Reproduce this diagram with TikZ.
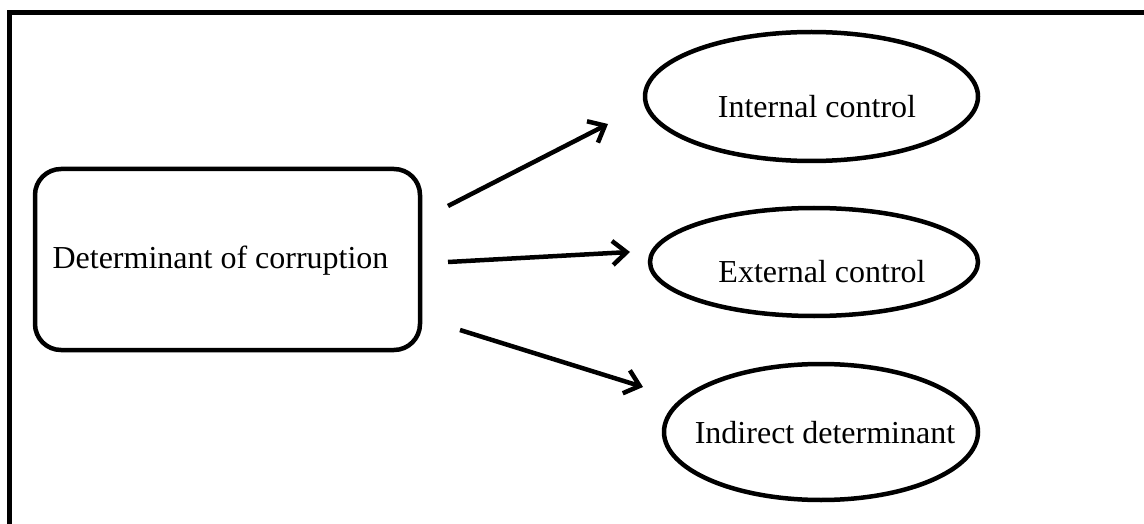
\documentclass[tikz,border=0pt]{standalone}
\usepackage{fontspec}
\setmainfont{Liberation Serif}
\usetikzlibrary{shapes.geometric,arrows.meta}
\tikzset{
  box/.style={draw, line width=4.5pt, rounded corners=26pt, inner sep=0pt},
  oval/.style={draw, ellipse, line width=4.5pt, inner sep=0pt},
  lbl/.style={anchor=base, inner sep=0pt, font=\fontsize{32}{38}\selectfont},
  arr/.style={line width=4.5pt, -{Straight Barb[length=14pt,width=24pt,line width=4.5pt]}},
}
\begin{document}
\begin{tikzpicture}[x=1pt,y=-1pt]
\useasboundingbox (0,0) rectangle (1144,524);
\begin{scope}
\clip (0,0) rectangle (1144,524);
\draw[line width=5pt] (9.5,13) rectangle (1160,540);
\end{scope}
% main box
\node[box, minimum width=385pt, minimum height=181pt] (det) at (227.5,259.5) {};
\node[lbl] (dett) at (220.5,268) {Determinant of corruption};
% ellipses
\node[oval, minimum width=333pt, minimum height=129pt] (ic) at (811.5,96.5) {};
\node[lbl] (ict) at (817,118) {Internal control};
\node[oval, minimum width=328pt, minimum height=108pt] (ec) at (814,262) {};
\node[lbl] (ect) at (822,282) {External control};
\node[oval, minimum width=314pt, minimum height=136pt] (id) at (821,432) {};
\node[lbl] (idt) at (825,443) {Indirect determinant};
% arrows
\coordinate (a1s) at (448,206); \coordinate (a1e) at (608,124);
\coordinate (a2s) at (448,262); \coordinate (a2e) at (630,252);
\coordinate (a3s) at (460,330); \coordinate (a3e) at (643,387);
\draw[arr] (a1s) -- (a1e);
\draw[arr] (a2s) -- (a2e);
\draw[arr] (a3s) -- (a3e);
\end{tikzpicture}
\end{document}
